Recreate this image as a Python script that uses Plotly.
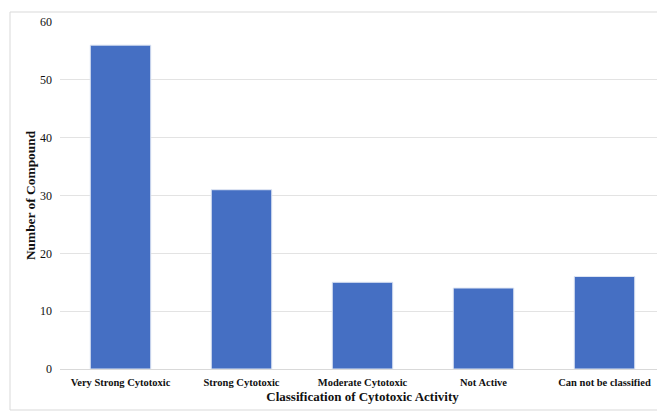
import plotly.graph_objects as go

categories = ["Very Strong Cytotoxic", "Strong Cytotoxic", "Moderate Cytotoxic",
              "Not Active", "Can not be classified"]
counts = [56, 31, 15, 14, 16]
y_ticks = [0, 10, 20, 30, 40, 50, 60]

# page body has an 8px margin; compensate so the chart lands where the reference has it
OFF = 8
W, H = 665 - OFF, 412 - OFF
ml, mr, mt, mb = 60 - OFF, 0, 22 - OFF, 43
pw, ph = W - ml - mr, H - mt - mb

fig = go.Figure()
fig.add_trace(go.Bar(
    x=categories, y=counts, width=0.5,
    marker=dict(color="#456fc3", line=dict(color="#dfe6f3", width=1)),
))

font_fam = "Liberation Serif"
fig.update_layout(
    width=W, height=H,
    margin=dict(l=ml, r=mr, t=mt, b=mb, autoexpand=False),
    paper_bgcolor="white", plot_bgcolor="white",
    showlegend=False,
    font=dict(family=font_fam, color="#1a1a1a"),
    xaxis=dict(
        title=dict(text="<b>Classification of Cytotoxic Activity</b>",
                   font=dict(size=13, family=font_fam, color="#111"), standoff=5),
        tickfont=dict(size=10.5, family=font_fam, color="#111"),
        tickprefix="<b>", ticksuffix="</b>",
        showline=True, linecolor="#d9d9d9", linewidth=1,
        showgrid=False, ticks="", ticklabelstandoff=3,
        automargin=True,
    ),
    yaxis=dict(
        title=dict(text="<b>Number of Compound</b>",
                   font=dict(size=13.4, family=font_fam, color="#111"), standoff=1),
        tickfont=dict(size=12, family=font_fam, color="#111"),
        tickprefix="<b>", ticksuffix="</b>",
        range=[0, 60], tickvals=y_ticks,
        showgrid=True, gridcolor="#e3e3e3", gridwidth=1,
        zeroline=False, ticks="",
        ticklabelstandoff=7, automargin=True,
    ),
    shapes=[dict(
        type="rect", xref="paper", yref="paper",
        x0=(10 - 60) / pw, x1=(664 - 60) / pw,
        y0=(369 - 410) / ph, y1=1 + (22 - 12) / ph,
        line=dict(color="#d9d9d9", width=1), fillcolor="rgba(0,0,0,0)",
        layer="below",
    )],
)

fig.write_html("out.html")
